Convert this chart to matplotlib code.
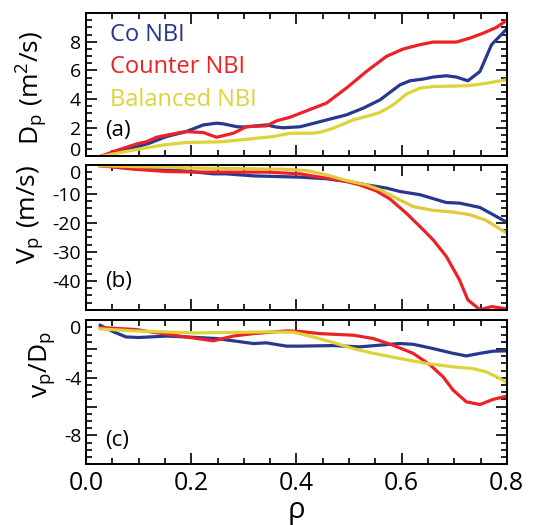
import numpy as np
import matplotlib
matplotlib.use('Agg')
import matplotlib.pyplot as plt
from matplotlib.ticker import MultipleLocator, FixedLocator, FuncFormatter

plt.rcParams['font.family'] = ['Open Sans', 'DejaVu Sans']
plt.rcParams['mathtext.fontset'] = 'custom'
plt.rcParams['mathtext.rm'] = 'Open Sans'
plt.rcParams['mathtext.it'] = 'Open Sans'

azul = '#28388f'
rojo = '#ec2227'
amarillo = '#dcd43a'

# (a) D_p
xa_co = [0.027, 0.065, 0.12, 0.153, 0.19, 0.223, 0.248, 0.26, 0.286, 0.30, 0.343, 0.362, 0.375,
         0.407, 0.445, 0.495, 0.527, 0.559, 0.597, 0.616, 0.641, 0.66, 0.685, 0.704, 0.726,
         0.749, 0.771, 0.80]
da_co = [0.0, 0.34, 0.92, 1.39, 1.73, 2.2, 2.32, 2.28, 2.08, 2.05, 2.2, 2.05, 2.0,
         2.07, 2.43, 2.9, 3.37, 3.95, 5.0, 5.28, 5.4, 5.54, 5.63, 5.54, 5.28,
         5.93, 7.8, 8.9]
xa_ct = [0.027, 0.052, 0.096, 0.115, 0.134, 0.179, 0.19, 0.223, 0.248, 0.28, 0.305, 0.343,
         0.362, 0.388, 0.419, 0.457, 0.495, 0.533, 0.571, 0.603, 0.635, 0.66, 0.704, 0.73,
         0.755, 0.78, 0.80]
da_ct = [0.0, 0.34, 0.87, 1.03, 1.34, 1.67, 1.73, 1.67, 1.34, 1.62, 2.08, 2.13,
         2.48, 2.74, 3.18, 3.72, 4.77, 5.93, 6.98, 7.5, 7.8, 7.98, 7.98, 8.26,
         8.6, 9.0, 9.5]
xa_bal = [0.027, 0.065, 0.109, 0.147, 0.19, 0.229, 0.26, 0.305, 0.356, 0.388, 0.432, 0.445,
          0.47, 0.508, 0.533, 0.559, 0.584, 0.609, 0.635, 0.66, 0.723, 0.755, 0.80]
da_bal = [0.0, 0.27, 0.57, 0.8, 0.97, 1.0, 1.03, 1.2, 1.39, 1.62, 1.62, 1.69,
          1.97, 2.55, 2.79, 3.07, 3.6, 4.35, 4.77, 4.88, 4.93, 5.07, 5.35]

# (b) V_p
xb_co = [0.027, 0.153, 0.242, 0.266, 0.318, 0.407, 0.457, 0.495, 0.533, 0.571, 0.597, 0.635,
         0.685, 0.71, 0.749, 0.774, 0.80]
vb_co = [-0.3, -1.5, -3.1, -3.1, -3.8, -4.25, -4.8, -5.7, -6.9, -8.0, -9.2, -10.3,
         -13.0, -13.2, -14.7, -17.2, -19.8]
xb_ct = [0.027, 0.09, 0.153, 0.216, 0.343, 0.407, 0.445, 0.489, 0.52, 0.552, 0.578, 0.609,
         0.635, 0.66, 0.685, 0.71, 0.726, 0.749, 0.771, 0.80]
vb_ct = [-0.3, -1.5, -2.3, -2.5, -2.5, -3.1, -4.25, -5.5, -6.9, -9.0, -11.8, -16.7,
         -21.3, -25.9, -31.6, -39.7, -46.6, -50.0, -48.9, -49.7]
xb_bal = [0.027, 0.216, 0.375, 0.419, 0.457, 0.495, 0.533, 0.559, 0.59, 0.622, 0.66, 0.698,
          0.73, 0.761, 0.80]
vb_bal = [-0.3, -1.15, -1.5, -1.95, -3.45, -5.4, -6.9, -8.6, -11.5, -14.4, -15.7, -16.3,
          -17.2, -19.2, -23.6]

# (c) v_p / D_p
xc_co = [0.027, 0.052, 0.076, 0.10, 0.153, 0.19, 0.248, 0.28, 0.318, 0.343, 0.381, 0.407,
         0.47, 0.52, 0.559, 0.597, 0.622, 0.66, 0.698, 0.723, 0.749, 0.774, 0.80]
rc_co = [-0.35, -0.8, -1.16, -1.2, -1.1, -1.16, -1.27, -1.43, -1.62, -1.57, -1.8, -1.8,
         -1.76, -1.85, -1.73, -1.62, -1.67, -1.97, -2.3, -2.48, -2.3, -2.15, -2.13]
xc_ct = [0.027, 0.096, 0.121, 0.19, 0.242, 0.28, 0.318, 0.381, 0.407, 0.445, 0.508, 0.546,
         0.584, 0.622, 0.654, 0.679, 0.698, 0.723, 0.749, 0.774, 0.80]
rc_ct = [-0.5, -0.65, -0.8, -1.16, -1.43, -1.1, -0.93, -0.74, -0.78, -0.93, -1.04, -1.27,
         -1.74, -2.3, -3.1, -3.94, -4.86, -5.67, -5.86, -5.5, -5.28]
xc_bal = [0.027, 0.09, 0.21, 0.343, 0.394, 0.432, 0.47, 0.508, 0.546, 0.597, 0.647, 0.698,
          0.736, 0.761, 0.787, 0.80]
rc_bal = [-0.6, -0.74, -0.88, -0.81, -0.83, -1.16, -1.55, -1.97, -2.3, -2.66, -3.0, -3.24,
          -3.36, -3.59, -4.05, -4.35]

nombres = ['Co NBI', 'Counter NBI', 'Balanced NBI']

fig = plt.figure(figsize=(5.38, 5.25), dpi=100)
izq, ancho = 0.160, 0.782
ax1 = fig.add_axes([izq, 0.702, ancho, 0.273])
ax2 = fig.add_axes([izq, 0.410, ancho, 0.276])
ax3 = fig.add_axes([izq, 0.116, ancho, 0.274])

lw = 2.3
ax1.plot(xa_co, da_co, color=azul, lw=lw)
ax1.plot(xa_ct, da_ct, color=rojo, lw=lw)
ax1.plot(xa_bal, da_bal, color=amarillo, lw=lw)
ax2.plot(xb_co, vb_co, color=azul, lw=lw)
ax2.plot(xb_ct, vb_ct, color=rojo, lw=lw)
ax2.plot(xb_bal, vb_bal, color='#e2c83a', lw=lw)
ax3.plot(xc_co, rc_co, color=azul, lw=lw)
ax3.plot(xc_ct, rc_ct, color=rojo, lw=lw)
ax3.plot(xc_bal, rc_bal, color=amarillo, lw=lw)

def etiquetas(visibles):
    return FuncFormatter(lambda v, p: ('%d' % round(v)) if any(abs(v - t) < 1e-6 for t in visibles) else '')

ax1.set_ylim(0, 10)
ax1.yaxis.set_major_locator(FixedLocator([0, 2, 4, 6, 8, 10]))
ax1.yaxis.set_major_formatter(etiquetas([0, 2, 4, 6, 8]))
ax1.yaxis.set_minor_locator(MultipleLocator(0.5))

ax2.set_ylim(-50, 0)
ax2.yaxis.set_major_locator(FixedLocator([0, -10, -20, -30, -40, -50]))
ax2.yaxis.set_major_formatter(etiquetas([0, -10, -20, -30, -40]))
ax2.yaxis.set_minor_locator(MultipleLocator(2.5))

ax3.set_ylim(-10, 0)
ax3.yaxis.set_major_locator(FixedLocator([0, -2, -4, -6, -8, -10]))
ax3.yaxis.set_major_formatter(etiquetas([0, -4, -8]))
ax3.yaxis.set_minor_locator(MultipleLocator(0.5))

for ax in (ax1, ax2, ax3):
    ax.set_xlim(0, 0.8)
    ax.xaxis.set_major_locator(MultipleLocator(0.2))
    ax.xaxis.set_minor_locator(MultipleLocator(0.05))
    ax.tick_params(which='both', direction='in', top=True, right=True, width=1.2)
    ax.tick_params(which='major', length=8, labelsize=14)
    ax.tick_params(which='minor', length=4)
    for s in ax.spines.values():
        s.set_linewidth(1.4)

ax1.tick_params(axis='x', labelbottom=False)
ax2.tick_params(axis='x', labelbottom=False)
ax3.xaxis.set_major_formatter(FuncFormatter(lambda v, p: '%.1f' % v))
ax3.tick_params(axis='x', labelsize=18, pad=5)

# los ceros pegados a los bordes, como en el original
ax1.yaxis.get_major_ticks()[0].label1.set_va('baseline')
for ax in (ax2, ax3):
    ax.yaxis.get_major_ticks()[0].label1.set_va('top')

ax1.set_ylabel(r'$\mathregular{D_p\ (m^2/s)}$', fontsize=19)
ax1.yaxis.set_label_coords(-0.086, 0.48)
ax2.set_ylabel(r'$\mathregular{V_p\ (m/s)}$', fontsize=19)
ax2.yaxis.set_label_coords(-0.097, 0.655)
ax3.set_ylabel(r'$\mathregular{v_p/D_p}$', fontsize=19)
ax3.yaxis.set_label_coords(-0.069, 0.69)
ax3.set_xlabel('ρ', fontsize=21, labelpad=0)

ax1.text(0.045, 0.18, '(a)', transform=ax1.transAxes, fontsize=16, va='center')
ax2.text(0.045, 0.195, '(b)', transform=ax2.transAxes, fontsize=16, va='center')
ax3.text(0.045, 0.167, '(c)', transform=ax3.transAxes, fontsize=16, va='center')

for nombre, col, yy in zip(nombres, [azul, rojo, amarillo], [0.847, 0.624, 0.394]):
    ax1.text(0.057, yy, nombre, color=col, transform=ax1.transAxes, fontsize=17, va='center')

fig.savefig('out.png', dpi=100)
